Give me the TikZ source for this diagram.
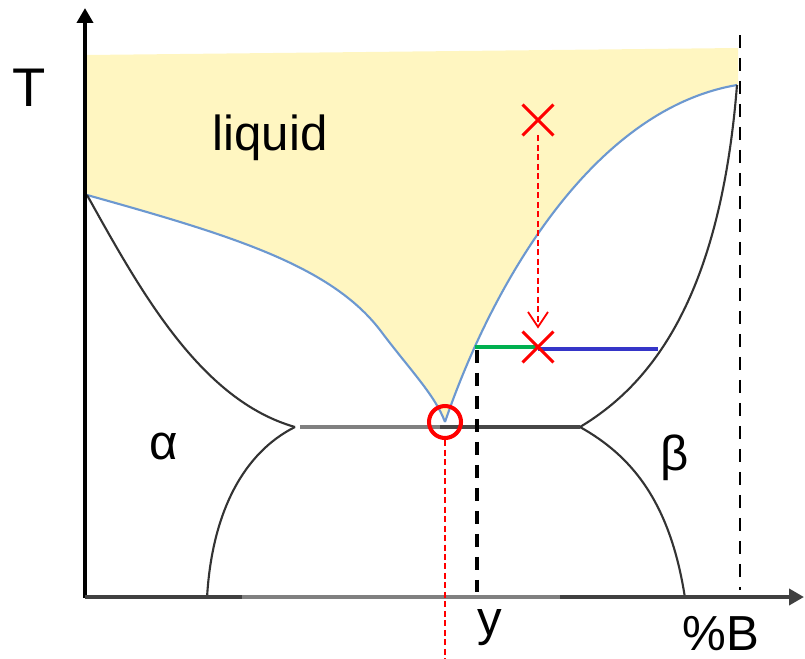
\documentclass[tikz,border=0pt]{standalone}
\usepackage{fontspec}
\setmainfont{Liberation Sans}
\usetikzlibrary{arrows.meta, shapes.misc}
\definecolor{liqfill}{HTML}{FFF6C1}
\definecolor{liqblue}{HTML}{6C98D0}
\definecolor{tiegreen}{HTML}{00B050}
\definecolor{tieblue}{HTML}{3535C8}
\begin{document}
\begin{tikzpicture}[x=0.02cm, y=-0.02cm,
  lbl/.style={inner sep=0pt, font=\fontsize{28}{30}\selectfont},
  axis/.style={line width=2.3pt, -{Triangle[length=0.3cm, width=0.32cm]}},
  liq/.style={draw=liqblue, line width=1.2pt},
  sol/.style={draw=black!80, line width=1.2pt},
  eut/.style={line width=2.3pt},
  bdash/.style={line width=1.7pt, dash pattern=on 0.26cm off 0.2cm},
  rdash/.style={red, line width=1pt, dash pattern=on 0.12cm off 0.07cm},
  cross/.style={cross out, draw=red, line width=1.7pt, minimum size=0.56cm, inner sep=0pt},
  tie/.style={line width=2.4pt}]
\useasboundingbox (0,0) rectangle (805,659);
% liquid region
\fill[liqfill] (87,55) -- (738,48) -- (738,85) .. controls (590,110) and (490,290) .. (445,422)
  .. controls (435,395) and (410,370) .. (380,330)
  .. controls (330,265) and (230,235) .. (87,195) -- cycle;
% liquidus
\draw[liq] (87,195) .. controls (230,235) and (330,265) .. (380,330) .. controls (410,370) and (435,395) .. (445,422);
\draw[liq] (445,422) .. controls (490,290) and (590,110) .. (737,85);
% solidus and solvus
\draw[sol] (87,195) .. controls (140,290) and (200,400) .. (295,427);
\draw[sol] (295,427) .. controls (245,452) and (212,510) .. (207,598);
\draw[sol] (580,427) .. controls (650,385) and (720,300) .. (737,85);
\draw[sol] (580,427) .. controls (630,455) and (670,500) .. (685,598);
% eutectic line
\draw[eut, black!50] (300,427) -- (440,427);
\draw[eut, black!72] (440,427) -- (580,427);
% axes
\draw[axis] (85,598) -- (85,8);
\draw[axis, black!75] (85,597) -- (804,597);
\draw[eut, black!50] (242,597) -- (560,597);
\draw[bdash, line width=1.5pt] (740,35) -- (740,590);
% tie line
\coordinate (tl) at (475,347);
\coordinate (xm) at (538,347);
\coordinate (ts) at (658,349);
\draw[bdash, line width=2.1pt] (477,350) -- (477,592);
\draw[tie, tiegreen] (tl) -- (xm);
\draw[tie, tieblue] (xm |- ts) -- (ts);
% cooling path
\node[cross] (x1) at (538,120) {};
\node[cross] (x2) at (xm) {};
\draw[rdash, -{Straight Barb[length=0.3cm, width=0.4cm]}] (x1.south) -- ([yshift=0.06cm]x2.north);
\node[circle, draw=red, line width=2.3pt, minimum size=0.64cm, inner sep=0pt] (eu) at (445,422) {};
\draw[rdash] (eu.south) -- (445,659);
% labels
\node[lbl, font=\fontsize{31}{33}\selectfont] (T) at (29,88) {T};
\node[lbl] (liquid) at (270,138) {liquid};
\node[lbl] (alpha) at (164,446) {α};
\node[lbl] (beta) at (675,458) {β};
\node[lbl] (y) at (490,628) {y};
\node[lbl] (B) at (721,634) {\%B};
\end{tikzpicture}
\end{document}
